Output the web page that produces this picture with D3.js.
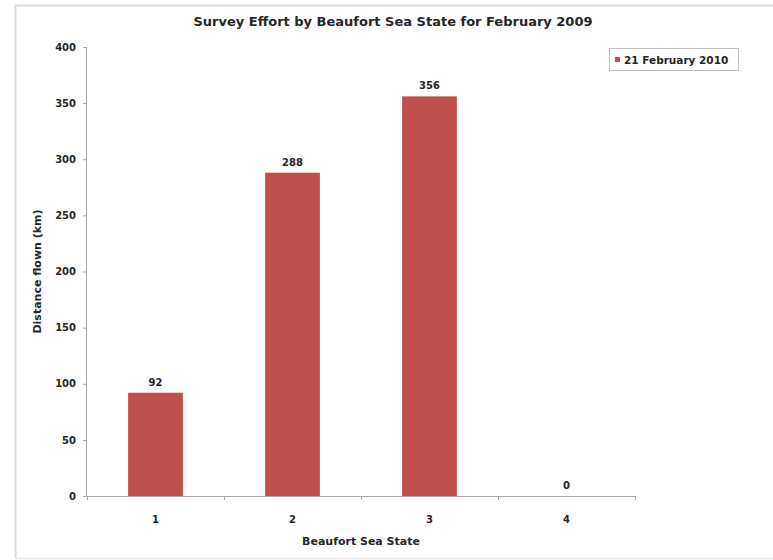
<!DOCTYPE html>
<html><head><meta charset="utf-8">
<script src="https://cdn.jsdelivr.net/npm/d3@7"></script>
<style>body{margin:0;background:#fff}svg{display:block;font-family:"DejaVu Sans",Verdana,sans-serif}</style>
</head><body><svg id="c" width="773" height="560"></svg>
<script>
const categories = ["1","2","3","4"];
const values = [92, 288, 356, 0];
const yTicks = [0,50,100,150,200,250,300,350,400];
const seriesName = "21 February 2010";
const title = "Survey Effort by Beaufort Sea State for February 2009";
const xTitle = "Beaufort Sea State";
const yTitle = "Distance flown (km)";

(function(){
const svg = d3.select("#c");
const W = 773, H = 560;
const pL = 87, pR = 635, pT = 47, pB = 496;
const barColor = "#c0504d";
const FF = "DejaVu Sans, Verdana, sans-serif";
const txt = "#262626";

// frame
svg.append("line").attr("x1",15).attr("x2",W).attr("y1",5.5).attr("y2",5.5).attr("stroke","#d9d9d9").attr("stroke-width",2);
svg.append("line").attr("x1",15.5).attr("x2",15.5).attr("y1",5).attr("y2",558).attr("stroke","#d9d9d9").attr("stroke-width",2);
svg.append("line").attr("x1",15).attr("x2",W).attr("y1",558.5).attr("y2",558.5).attr("stroke","#eeeeee").attr("stroke-width",2);

const x = d3.scaleBand().domain(categories).range([pL, pR]).padding(0);
const y = d3.scaleLinear().domain([0, 400]).range([pB, pT]);
const bw = x.bandwidth() * 0.4;

// bars
svg.selectAll("rect.bar").data(values).enter().append("rect")
  .attr("class","bar")
  .attr("x",(d,i)=>x(categories[i]) + x.bandwidth()/2 - bw/2)
  .attr("width",bw)
  .attr("y",d=>y(d))
  .attr("height",d=>pB - y(d))
  .attr("fill",barColor);

// data labels
svg.selectAll("text.lbl").data(values).enter().append("text")
  .attr("x",(d,i)=>x(categories[i]) + x.bandwidth()/2)
  .attr("y",d=>y(d)-7)
  .attr("text-anchor","middle")
  .attr("font-size",10).attr("font-weight","bold").attr("fill",txt)
  .text(d=>d);

// y axis
const yAxis = d3.axisLeft(y).tickValues(yTicks).tickSize(4).tickPadding(7);
const gy = svg.append("g").attr("transform",`translate(${pL},0)`).call(yAxis);
gy.select(".domain").attr("stroke","#a6a6a6").attr("d",`M-0.5,${pT}V${pB}`);
gy.selectAll(".tick line").attr("stroke","#a6a6a6");
gy.selectAll(".tick text").attr("font-size",10).attr("font-weight","bold").attr("fill",txt).attr("font-family",FF);

// x axis
const xAxis = d3.axisBottom(x).tickSize(0).tickPadding(20);
const gx = svg.append("g").attr("transform",`translate(0,${pB})`).call(xAxis);
gx.select(".domain").attr("stroke","#a6a6a6").attr("d",`M${pL},0.5H${pR}`);
gx.selectAll(".tick text").attr("font-size",10).attr("font-weight","bold").attr("fill",txt).attr("font-family",FF);
const bounds = categories.map(c=>x(c)).concat([pR]);
gx.selectAll("line.bt").data(bounds).enter().append("line")
  .attr("class","bt").attr("x1",d=>d+0.5).attr("x2",d=>d+0.5).attr("y1",0).attr("y2",4).attr("stroke","#a6a6a6");

// titles
svg.append("text").attr("x",393).attr("y",26).attr("text-anchor","middle")
  .attr("font-size",13).attr("font-weight","bold").attr("fill",txt).text(title);
svg.append("text").attr("x",361).attr("y",545).attr("text-anchor","middle")
  .attr("font-size",11).attr("font-weight","bold").attr("fill",txt).text(xTitle);
svg.append("text").attr("transform",`translate(41,${(pT+pB)/2}) rotate(-90)`).attr("text-anchor","middle")
  .attr("font-size",11).attr("font-weight","bold").attr("fill",txt).text(yTitle);

// legend
const lg = svg.append("g");
lg.append("rect").attr("x",609.5).attr("y",48.5).attr("width",129).attr("height",22).attr("fill","#fff").attr("stroke","#bfbfbf");
lg.append("rect").attr("x",615).attr("y",57).attr("width",5).attr("height",5).attr("fill",barColor);
lg.append("text").attr("x",624).attr("y",63.5).attr("font-size",10.5).attr("font-weight","bold").attr("fill",txt).text(seriesName);
})();
</script></body></html>
